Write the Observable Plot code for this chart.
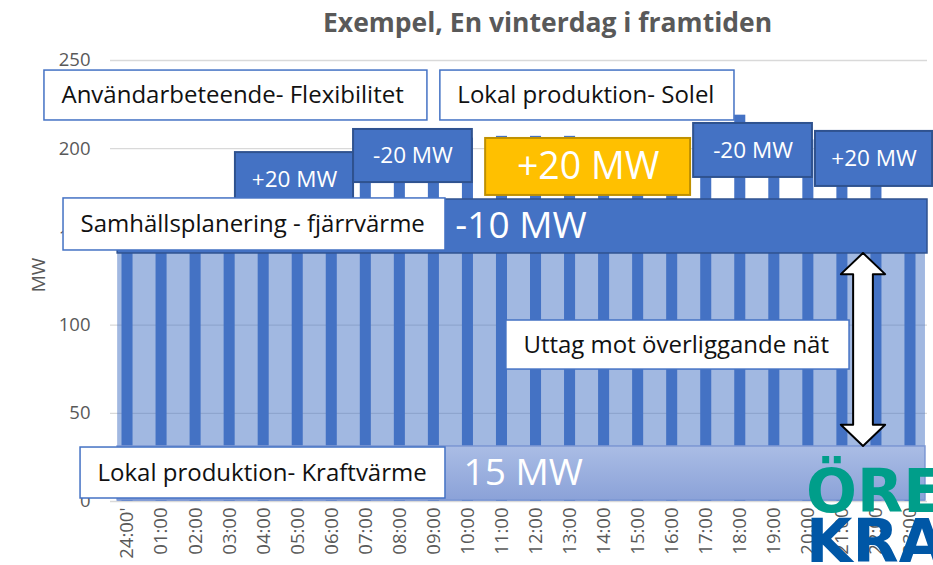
<!DOCTYPE html>
<html>
<head>
<meta charset="utf-8">
<script src="https://cdn.jsdelivr.net/npm/d3@7"></script>
<script src="https://cdn.jsdelivr.net/npm/@observablehq/plot@0.6"></script>
<style>
  html, body { margin: 0; padding: 0; background: #fff; overflow: hidden; }
  #wrap { position: relative; width: 933px; height: 565px; overflow: hidden; }
  #title { position: absolute; left: 323px; top: 4px; font: bold 26.5px "Open Sans", sans-serif; color: #595959; white-space: nowrap; }
  #ylabel { position: absolute; left: 38px; top: 275px; transform: translate(-50%, -50%) rotate(-90deg); font: 19px "Open Sans", sans-serif; color: #595959; white-space: nowrap; line-height: 1; }
  #logo { position: absolute; left: 806px; top: 466px; font: bold 60px "DejaVu Sans", sans-serif; line-height: 50px; white-space: nowrap; }
  #logo .a { color: #009E8A; }
  #logo .b { color: #0057A6; }
</style>
</head>
<body>
<div id="wrap">
  <div id="chart"></div>
  <div id="title"></div>
  <div id="ylabel"></div>
  <div id="logo"><div class="a">ÖRESUNDS</div><div class="b">KRAFT</div></div>
</div>
<script>
// ---- data ----
const hourLabels = ["24:00'", "01:00", "02:00", "03:00", "04:00", "05:00", "06:00", "07:00",
  "08:00", "09:00", "10:00", "11:00", "12:00", "13:00", "14:00", "15:00", "16:00", "17:00",
  "18:00", "19:00", "20:00", "21:00", "22:00", "23:00"];
const demandMW = [160, 155, 152, 158, 175, 185, 192, 204, 208, 207, 206, 207,
  207, 207, 206, 205, 206, 212, 219, 212, 205, 196, 190, 168];
const yTicks = [0, 50, 100, 150, 200, 250];
const yLabel = "MW";
const titleText = "Exempel, En vinterdag i framtiden";

// ---- annotations (in data units: hour index, MW) ----
const withdrawalBand = [{x1: -0.29, x2: 23.44, y1: 0, y2: 170}];
const stripBoxes = [
  {label: "-10 MW", x1: -0.29, x2: 23.5, y1: 140.6, y2: 171.2, textX: 9.63, fill: "#4472C4", stroke: "#2F528F"},
  {label: "15 MW", x1: -0.29, x2: 23.44, y1: 0.6, y2: 31.2, textX: 9.87, fill: "url(#grad15)", stroke: "#7C97D3"}
];
const changeBoxes = [
  {label: "+20 MW", x1: 3.17, x2: 6.64, y1: 166.5, y2: 197.8, fill: "#4472C4", stroke: "#2F528F", size: 22.5},
  {label: "-20 MW", x1: 6.64, x2: 10.13, y1: 180.8, y2: 210.9, fill: "#4472C4", stroke: "#2F528F", size: 22.5},
  {label: "+20 MW", x1: 10.52, x2: 16.54, y1: 173.5, y2: 205.8, fill: "#FFC000", stroke: "#BF9000", size: 37.5},
  {label: "-20 MW", x1: 16.63, x2: 20.12, y1: 183.7, y2: 214.3, fill: "#4472C4", stroke: "#2F528F", size: 22.5},
  {label: "+20 MW", x1: 20.21, x2: 23.65, y1: 178.6, y2: 209.8, fill: "#4472C4", stroke: "#2F528F", size: 22.5}
];
const labelBoxes = [
  {label: "Användarbeteende- Flexibilitet", x1: -2.44, x2: 8.81, y1: 216.0, y2: 244.3},
  {label: "Lokal produktion- Solel", x1: 9.19, x2: 17.83, y1: 216.0, y2: 244.3},
  {label: "Samhällsplanering - fjärrvärme", x1: -1.88, x2: 9.34, y1: 142.3, y2: 171.8},
  {label: "Uttag mot överliggande nät", x1: 11.13, x2: 21.21, y1: 74.8, y2: 102.6},
  {label: "Lokal produktion- Kraftvärme", x1: -1.38, x2: 9.34, y1: 1.7, y2: 30.6}
];
const arrowSpec = {cx: 21.62, top: 140.6, bottom: 31.2, headLen: 12, headHalf: 0.65, shaftHalf: 0.29};

// ---- build ----
document.getElementById("title").textContent = titleText;
document.getElementById("ylabel").textContent = yLabel;
const rows = hourLabels.map((label, i) => ({i, label, mw: demandMW[i]}));
const a = arrowSpec;
const arrowPts = [
  {y: a.top, x1: a.cx, x2: a.cx},
  {y: a.top - a.headLen, x1: a.cx - a.headHalf, x2: a.cx + a.headHalf},
  {y: a.top - a.headLen, x1: a.cx - a.shaftHalf, x2: a.cx + a.shaftHalf},
  {y: a.bottom + a.headLen, x1: a.cx - a.shaftHalf, x2: a.cx + a.shaftHalf},
  {y: a.bottom + a.headLen, x1: a.cx - a.headHalf, x2: a.cx + a.headHalf},
  {y: a.bottom, x1: a.cx, x2: a.cx}
];
const mid = d => (d.y1 + d.y2) / 2;
const cmid = d => (d.x1 + d.x2) / 2;

const svg = Plot.plot({
  width: 933,
  height: 565,
  marginLeft: 110,
  marginRight: 6,
  marginTop: 60,
  marginBottom: 64,
  x: {domain: [-0.5, 23.5]},
  y: {domain: [0, 250]},
  style: {fontFamily: "'Open Sans', sans-serif", color: "#595959", background: "transparent", overflow: "visible"},
  marks: [
    Plot.gridY(yTicks, {stroke: "#D9D9D9", strokeOpacity: 1, strokeWidth: 1.3}),
    Plot.axisY(yTicks, {tickSize: 0, tickPadding: 20, fontSize: 18.5, label: null}),
    Plot.axisX(rows.map(d => d.i), {tickFormat: i => hourLabels[i], tickRotate: -90, tickSize: 0, tickPadding: 6, fontSize: 18.5, label: null}),
    Plot.rect(rows, {x1: d => d.i - 0.5, x2: d => d.i + 0.5, y1: 0, y2: "mw", fill: "#4472C4", insetLeft: 11.5, insetRight: 11.5}),
    Plot.rect(withdrawalBand, {x1: "x1", x2: "x2", y1: "y1", y2: "y2", fill: "#4472C4", fillOpacity: 0.5}),
    Plot.rect(stripBoxes, {x1: "x1", x2: "x2", y1: "y1", y2: "y2", fill: "fill", stroke: "stroke", strokeWidth: 1.5}),
    Plot.text(stripBoxes, {x: "textX", y: mid, text: "label", fill: "white", fontSize: 37, textAnchor: "start"}),
    Plot.rect(changeBoxes, {x1: "x1", x2: "x2", y1: "y1", y2: "y2", fill: "fill", stroke: "stroke", strokeWidth: 2}),
    Plot.text(changeBoxes.filter(d => d.size < 30), {x: cmid, y: mid, text: "label", fill: "white", fontSize: 22.5}),
    Plot.text(changeBoxes.filter(d => d.size >= 30), {x: cmid, y: mid, text: "label", fill: "white", fontSize: 37.5}),
    Plot.areaX(arrowPts, {y: "y", x1: "x1", x2: "x2", fill: "white", stroke: "black", strokeWidth: 2, curve: "linear"}),
    Plot.rect(labelBoxes, {x1: "x1", x2: "x2", y1: "y1", y2: "y2", fill: "white", stroke: "#4472C4", strokeWidth: 1.5}),
    Plot.text(labelBoxes, {x: "x1", y: mid, text: "label", fill: "#111", fontSize: 24, textAnchor: "start", dx: 17})
  ]
});

// gradient for the "15 MW" strip
const ns = "http://www.w3.org/2000/svg";
const defs = document.createElementNS(ns, "defs");
const lg = document.createElementNS(ns, "linearGradient");
lg.setAttribute("id", "grad15");
lg.setAttribute("x1", "0"); lg.setAttribute("y1", "0");
lg.setAttribute("x2", "0"); lg.setAttribute("y2", "1");
[["0", "#AABDE5"], ["1", "#8BA2D8"]].forEach(([o, c]) => {
  const s = document.createElementNS(ns, "stop");
  s.setAttribute("offset", o); s.setAttribute("stop-color", c);
  lg.appendChild(s);
});
defs.appendChild(lg);
svg.insertBefore(defs, svg.firstChild);

document.getElementById("chart").appendChild(svg);
</script>
</body>
</html>
